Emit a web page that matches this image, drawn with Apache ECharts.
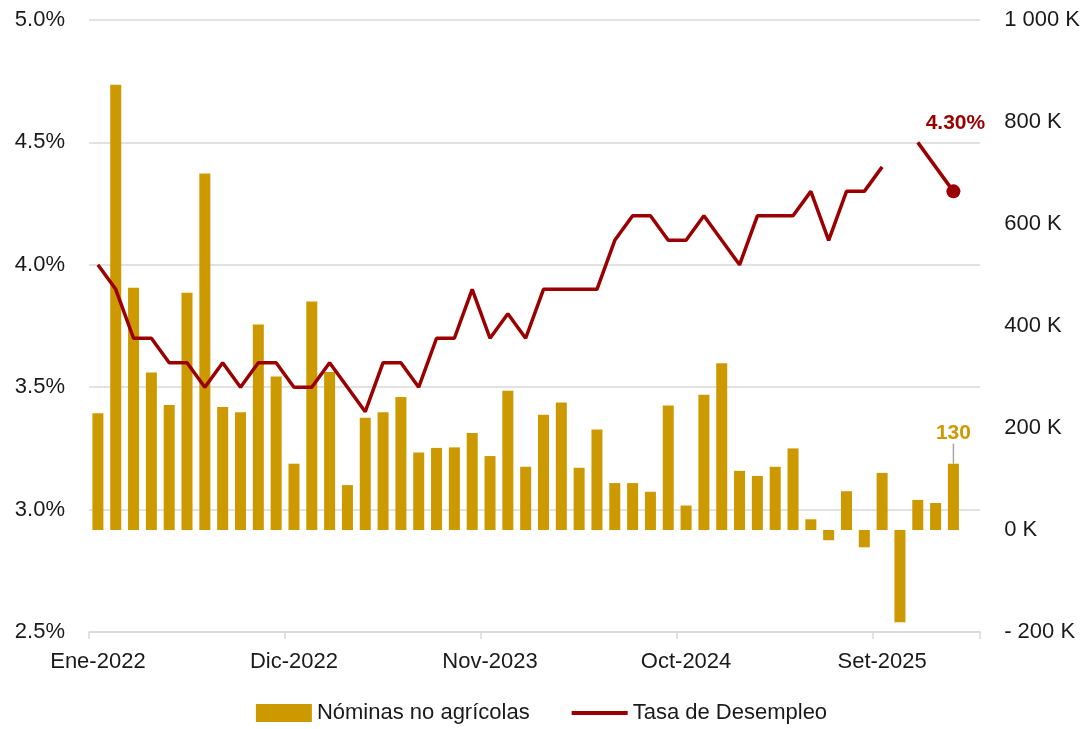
<!DOCTYPE html>
<html>
<head>
<meta charset="utf-8">
<script src="https://cdn.jsdelivr.net/npm/echarts@6/dist/echarts.min.js"></script>
<style>
  html, body { margin: 0; padding: 0; background: #fff; }
  #chart { width: 1083px; height: 729px; }
</style>
</head>
<body>
<div id="chart"></div>
<script>
// meses y años del eje x (Ene-2022 .. Feb-2026)
var meses = ['Ene','Feb','Mar','Abr','May','Jun','Jul','Ago','Set','Oct','Nov','Dic'];
var anios = [2022, 2023, 2024, 2025, 2026];
var categorias = [];
anios.forEach(function (a) {
  meses.forEach(function (m, i) {
    if (a === 2026 && i > 1) return;
    categorias.push(m + '-' + a);
  });
});

// Nóminas no agrícolas (miles)
var nominas = [
  229, 873, 475, 309, 245, 465, 699, 241, 231, 403, 301, 130,
  448, 310, 88, 220, 231, 261, 152, 161, 162, 190, 145, 273,
  124, 226, 250, 122, 197, 92, 92, 75, 244, 48, 265, 327,
  116, 106, 124, 160, 21, -20, 76, -34, 112, -181, 59, 53,
  130, null
];

// Tasa de desempleo (%)
var desempleo = [
  4.0, 3.9, 3.7, 3.7, 3.6, 3.6, 3.5, 3.6, 3.5, 3.6, 3.6, 3.5,
  3.5, 3.6, 3.5, 3.4, 3.6, 3.6, 3.5, 3.7, 3.7, 3.9, 3.7, 3.8,
  3.7, 3.9, 3.9, 3.9, 3.9, 4.1, 4.2, 4.2, 4.1, 4.1, 4.2, 4.1,
  4.0, 4.2, 4.2, 4.2, 4.3, 4.1, 4.3, 4.3, 4.4, null, 4.5, 4.4,
  4.3, null
];

var ultimo = 48;
var fuente = 'Liberation Sans, Arial, sans-serif';

var barData = nominas.map(function (v, i) {
  if (i !== ultimo) return v;
  return {
    value: v,
    label: {
      show: true, position: 'top', color: '#CC9900', fontWeight: 'bold',
      fontSize: 21, fontFamily: fuente, formatter: '{c}'
    }
  };
});

var lineData = desempleo.map(function (v, i) {
  if (i !== ultimo) return v;
  return {
    value: v,
    symbol: 'circle',
    symbolSize: 14,
    label: {
      show: true, position: 'top', offset: [2, -46], color: '#9B0000',
      fontWeight: 'bold', fontSize: 21, fontFamily: fuente,
      formatter: function (p) { return p.value.toFixed(2) + '%'; }
    }
  };
});

var myChart = echarts.init(document.getElementById('chart'));

var option = {
  animation: false,
  grid: { left: 89, right: 97, top: 20, bottom: 97 },
  legend: {
    top: 697,
    left: 'center',
    itemWidth: 56,
    itemHeight: 18,
    itemGap: 40,
    textStyle: { fontSize: 22, fontFamily: fuente, color: '#1a1a1a' },
    data: [
      { name: 'Nóminas no agrícolas', icon: 'rect' },
      { name: 'Tasa de Desempleo', itemStyle: { opacity: 0 }, lineStyle: { width: 4 } }
    ]
  },
  xAxis: {
    type: 'category',
    data: categorias,
    boundaryGap: true,
    axisLine: { onZero: false, lineStyle: { color: '#d9d9d9', width: 1.5 } },
    axisTick: { show: true, interval: 10, length: 7, lineStyle: { color: '#d9d9d9', width: 1.5 } },
    axisLabel: { interval: 10, margin: 19, fontSize: 22, fontFamily: fuente, color: '#1a1a1a' }
  },
  yAxis: [
    {
      type: 'value',
      min: 2.5, max: 5.0, interval: 0.5,
      axisLine: { show: false },
      axisTick: { show: false },
      splitLine: { lineStyle: { color: '#d9d9d9', width: 1.5 } },
      axisLabel: {
        margin: 24, fontSize: 22, fontFamily: fuente, color: '#1a1a1a',
        formatter: function (v) { return v.toFixed(1) + '%'; }
      }
    },
    {
      type: 'value',
      min: -200, max: 1000, interval: 200,
      axisLine: { show: false },
      axisTick: { show: false },
      splitLine: { show: false },
      axisLabel: {
        margin: 24, fontSize: 22, fontFamily: fuente, color: '#1a1a1a',
        formatter: function (v) {
          if (v === 1000) return '1 000 K';
          if (v < 0) return '- ' + (-v) + ' K';
          return v + ' K';
        }
      }
    }
  ],
  series: [
    {
      name: 'Nóminas no agrícolas',
      type: 'bar',
      yAxisIndex: 1,
      barWidth: 11,
      itemStyle: { color: '#CC9900' },
      labelLayout: { dy: -15 },
      labelLine: { show: true, lineStyle: { color: '#a6a6a6', width: 1.5 } },
      data: barData
    },
    {
      name: 'Tasa de Desempleo',
      type: 'line',
      yAxisIndex: 0,
      symbol: 'none',
      z: 3,
      lineStyle: { color: '#9B0000', width: 3.5 },
      itemStyle: { color: '#9B0000' },
      data: lineData
    }
  ]
};

myChart.setOption(option);
</script>
</body>
</html>
